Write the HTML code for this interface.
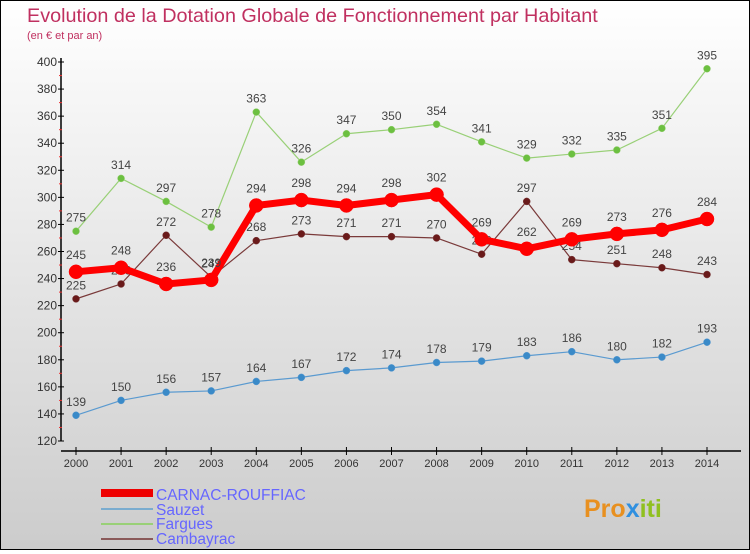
<!DOCTYPE html>
<html><head><meta charset="utf-8"><style>
body{margin:0}
#c{width:748px;height:548px;border:1px solid #000;background:linear-gradient(#fff,#ccc);position:relative;font-family:"Liberation Sans",sans-serif}
</style></head><body>
<div id="c">
<svg id="s" width="748" height="548" xmlns="http://www.w3.org/2000/svg">
<text x="26" y="21" font-size="19.8" fill="#c03060">Evolution de la Dotation Globale de Fonctionnement par Habitant</text>
<text x="26" y="38" font-size="11" fill="#c03060">(en € et par an)</text>
<g id="axes"></g><g id="series"></g>
<g>
<rect x="100" y="488" width="52" height="8" fill="#e00"/>
<text x="155" y="499" font-size="15.5" fill="#66f">CARNAC-ROUFFIAC</text>
<rect x="100" y="507" width="52" height="2" fill="#7aaccf"/>
<text x="155" y="514" font-size="15.5" fill="#66f">Sauzet</text>
<rect x="100" y="522" width="52" height="2" fill="#99d077"/>
<text x="155" y="528" font-size="15.5" fill="#66f">Fargues</text>
<rect x="100" y="537" width="52" height="2" fill="#8a5a5a"/>
<text x="155" y="543" font-size="15.5" fill="#66f">Cambayrac</text>
</g>
<text x="583" y="516" font-size="25" font-weight="bold" fill="#e89020">Pro<tspan fill="#3090e0">x</tspan><tspan fill="#90c020">iti</tspan></text>
</svg></div>
<script>
const years=[2000,2001,2002,2003,2004,2005,2006,2007,2008,2009,2010,2011,2012,2013,2014];
const carnac=[245,248,236,239,294,298,294,298,302,269,262,269,273,276,284];
const sauzet=[139,150,156,157,164,167,172,174,178,179,183,186,180,182,193];
const fargues=[275,314,297,278,363,326,347,350,354,341,329,332,335,351,395];
const cambayrac=[225,236,272,241,268,273,271,271,270,258,297,254,251,248,243];
const yTicks=[120,140,160,180,200,220,240,260,280,300,320,340,360,380,400];
const NS="http://www.w3.org/2000/svg";
const X=i=>75+i*(706-75)/(years.length-1);
const Y=v=>440-(v-120)*(440-61)/280;
function mk(t,a,p){const e=document.createElementNS(NS,t);for(const k in a)e.setAttribute(k,a[k]);p.appendChild(e);return e;}
const ax=document.getElementById('axes'),sg=document.getElementById('series');
let yl=mk('line',{x1:60,y1:57,x2:60,y2:440,stroke:'#000','stroke-width':1.5},ax);


let xl=mk('line',{x1:60,y1:450,x2:740,y2:450,stroke:'#000','stroke-width':1.5},ax);


yTicks.forEach(v=>{const y=Y(v);
mk('line',{x1:57,y1:y,x2:63,y2:y,stroke:'#000'},ax);
if(v<400)mk('line',{x1:58,y1:Y(v+10),x2:61,y2:Y(v+10),stroke:'#e33'},ax);
const t=mk('text',{x:56,y:y+4,'font-size':12,'text-anchor':'end',fill:'#333'},ax);t.textContent=v;

});
years.forEach((yr,i)=>{const x=X(i);
mk('line',{x1:x,y1:446,x2:x,y2:454,stroke:'#000'},ax);
const t=mk('text',{x:x,y:466,'font-size':11,'text-anchor':'middle',fill:'#333'},ax);t.textContent=yr;

});
function series(d,name,col,w,r,dot){
const g=mk('g',{},sg);


mk('polyline',{points:d.map((v,i)=>X(i)+','+Y(v)).join(' '),fill:'none',stroke:col,'stroke-width':w,'stroke-linejoin':'round'},g);
d.forEach((v,i)=>{const c=mk('circle',{cx:X(i),cy:Y(v),r:r,fill:dot,stroke:col,'stroke-width':0.5},g);


const t=mk('text',{x:X(i),y:Y(v)-r-6,'font-size':12,'text-anchor':'middle',fill:'#444'},g);t.textContent=v;

});}
series(sauzet,'sauzet','#5a9ad0',1.2,3.5,'#3a8ac8');
series(fargues,'fargues','#99d077',1.2,3.5,'#6cc040');
series(cambayrac,'cambayrac','#7a3a3a',1.2,3.5,'#6a1a1a');
series(carnac,'carnac','#f00',7,7,'#f00');
</script>
</body></html>
